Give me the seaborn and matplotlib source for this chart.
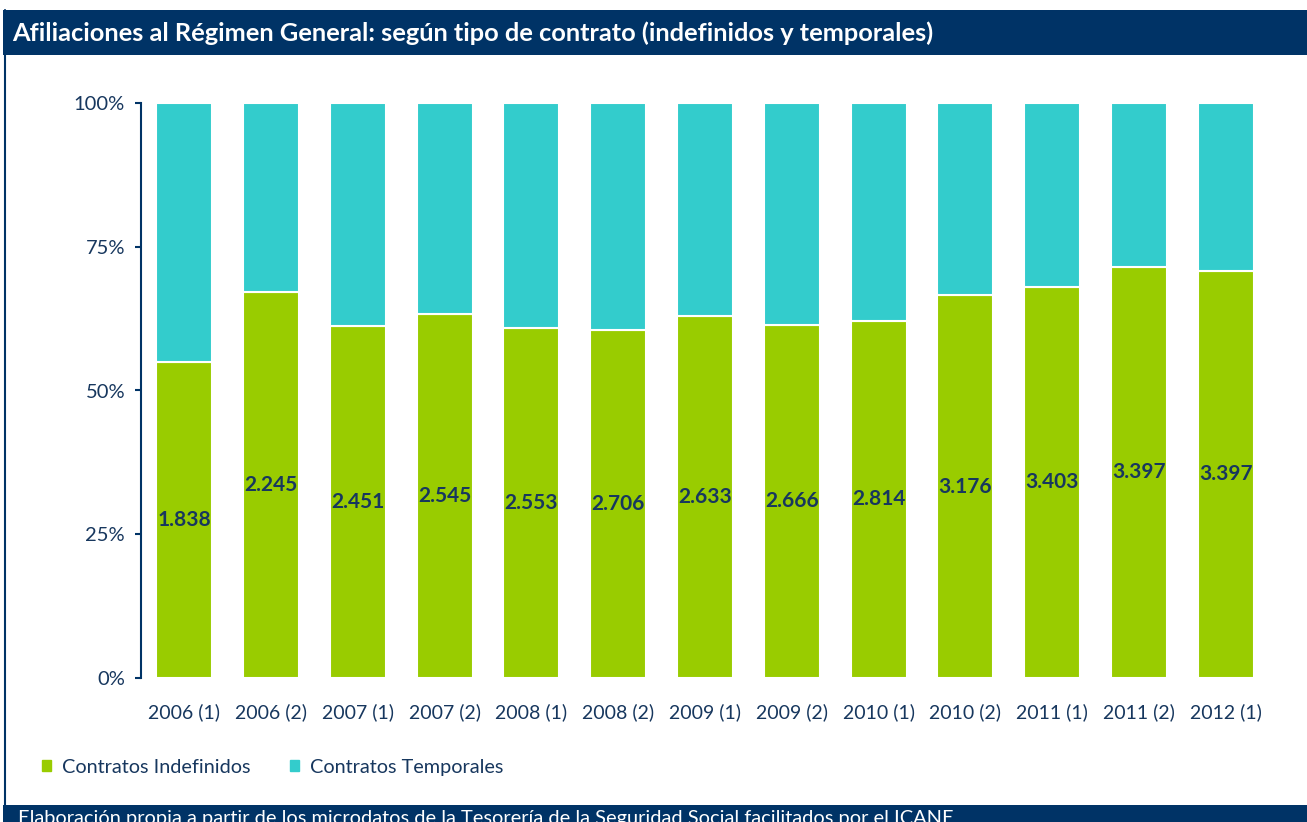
import numpy as np
import pandas as pd
import matplotlib
matplotlib.use('Agg')
import matplotlib.pyplot as plt
import seaborn as sns
from matplotlib.patches import Rectangle, Patch
from matplotlib.lines import Line2D
from matplotlib.ticker import PercentFormatter

# datos (porcentaje sobre el total de afiliados)
periodos = ['2006 (1)', '2006 (2)', '2007 (1)', '2007 (2)', '2008 (1)', '2008 (2)', '2009 (1)',
            '2009 (2)', '2010 (1)', '2010 (2)', '2011 (1)', '2011 (2)', '2012 (1)']
indefinidos_pct = [55.0, 67.1, 61.2, 63.3, 60.9, 60.5, 63.0, 61.4, 62.1, 66.6, 68.0, 71.5, 70.8]
temporales_pct = [45.0, 32.9, 38.8, 36.7, 39.1, 39.5, 37.0, 38.6, 37.9, 33.4, 32.0, 28.5, 29.2]
# etiquetas de los indefinidos (miles)
indefinidos_etiq = ['1.838', '2.245', '2.451', '2.545', '2.553', '2.706', '2.633',
                    '2.666', '2.814', '3.176', '3.403', '3.397', '3.397']

titulo = 'Afiliaciones al Régimen General: según tipo de contrato (indefinidos y temporales)'
fuente = ('Elaboración propia a partir de los microdatos de la Tesorería de la Seguridad Social '
          'facilitados por el ICANE')

verde = '#99CC00'
cian = '#33CCCC'
azul = '#003366'
texto = '#17375E'

df = pd.DataFrame({'periodo': periodos, 'indef': indefinidos_pct, 'temp': temporales_pct})

sns.set_style('white')
plt.rcParams['font.family'] = ['Lato', 'DejaVu Sans']

W, H = 1307, 822
fig = plt.figure(figsize=(W / 100, H / 100), dpi=100)
ax = fig.add_axes([141 / W, (H - 678) / H, (1269 - 141) / W, (678 - 103) / H])

sns.barplot(data=df, x='periodo', y='indef', color=verde, saturation=1, width=0.645,
            edgecolor='white', linewidth=1.5, errorbar=None, ax=ax)
sns.barplot(data=df, x='periodo', y='temp', bottom=df['indef'].to_numpy(), color=cian,
            saturation=1, width=0.645, edgecolor='white', linewidth=1.5, errorbar=None, ax=ax)

ax.bar_label(ax.containers[0], labels=indefinidos_etiq, label_type='center',
             fontsize=15, fontweight='bold', color=texto)

ax.set_xlim(-0.5, 12.5)
ax.set_ylim(0, 100)
ax.set_yticks([0, 25, 50, 75, 100])
ax.yaxis.set_major_formatter(PercentFormatter(decimals=0))
ax.set_xlabel('')
ax.set_ylabel('')
for s in ['top', 'right', 'bottom']:
    ax.spines[s].set_visible(False)
ax.spines['left'].set_color(azul)
ax.spines['left'].set_linewidth(1.5)
ax.tick_params(axis='y', left=True, length=4.5, width=1.5, color=azul, pad=7,
               labelsize=14.5, labelcolor=texto)
ax.tick_params(axis='x', length=0, pad=18, labelsize=14, labelcolor=texto)

# leyenda
handles = [Patch(color=verde, label='Contratos Indefinidos'),
           Patch(color=cian, label='Contratos Temporales')]
fig.legend(handles=handles, loc='center left', bbox_to_anchor=(24 / W, (H - 767) / H),
           ncol=2, frameon=False, handlelength=0.45, handleheight=0.45, handletextpad=0.55,
           columnspacing=2.0, fontsize=14.3, labelcolor=texto)

# cabecera, pie y marco
fig.add_artist(Rectangle((3 / W, (H - 55) / H), 1304 / W, 45 / H, transform=fig.transFigure,
                         facecolor=azul, edgecolor='none', zorder=0))
fig.text(12 / W, (H - 33) / H, titulo, color='white', fontsize=18.3, fontweight='bold',
         va='center')
fig.add_artist(Rectangle((3 / W, 0), 1304 / W, 17 / H, transform=fig.transFigure,
                         facecolor=azul, edgecolor='none', zorder=0))
fig.text(18 / W, (H - 810) / H, fuente, color='white', fontsize=14.4, va='top')
fig.add_artist(Line2D([5 / W, 5 / W], [0, (H - 10) / H], transform=fig.transFigure,
                      color=azul, linewidth=1.5))

fig.savefig('out.png', dpi=100)
